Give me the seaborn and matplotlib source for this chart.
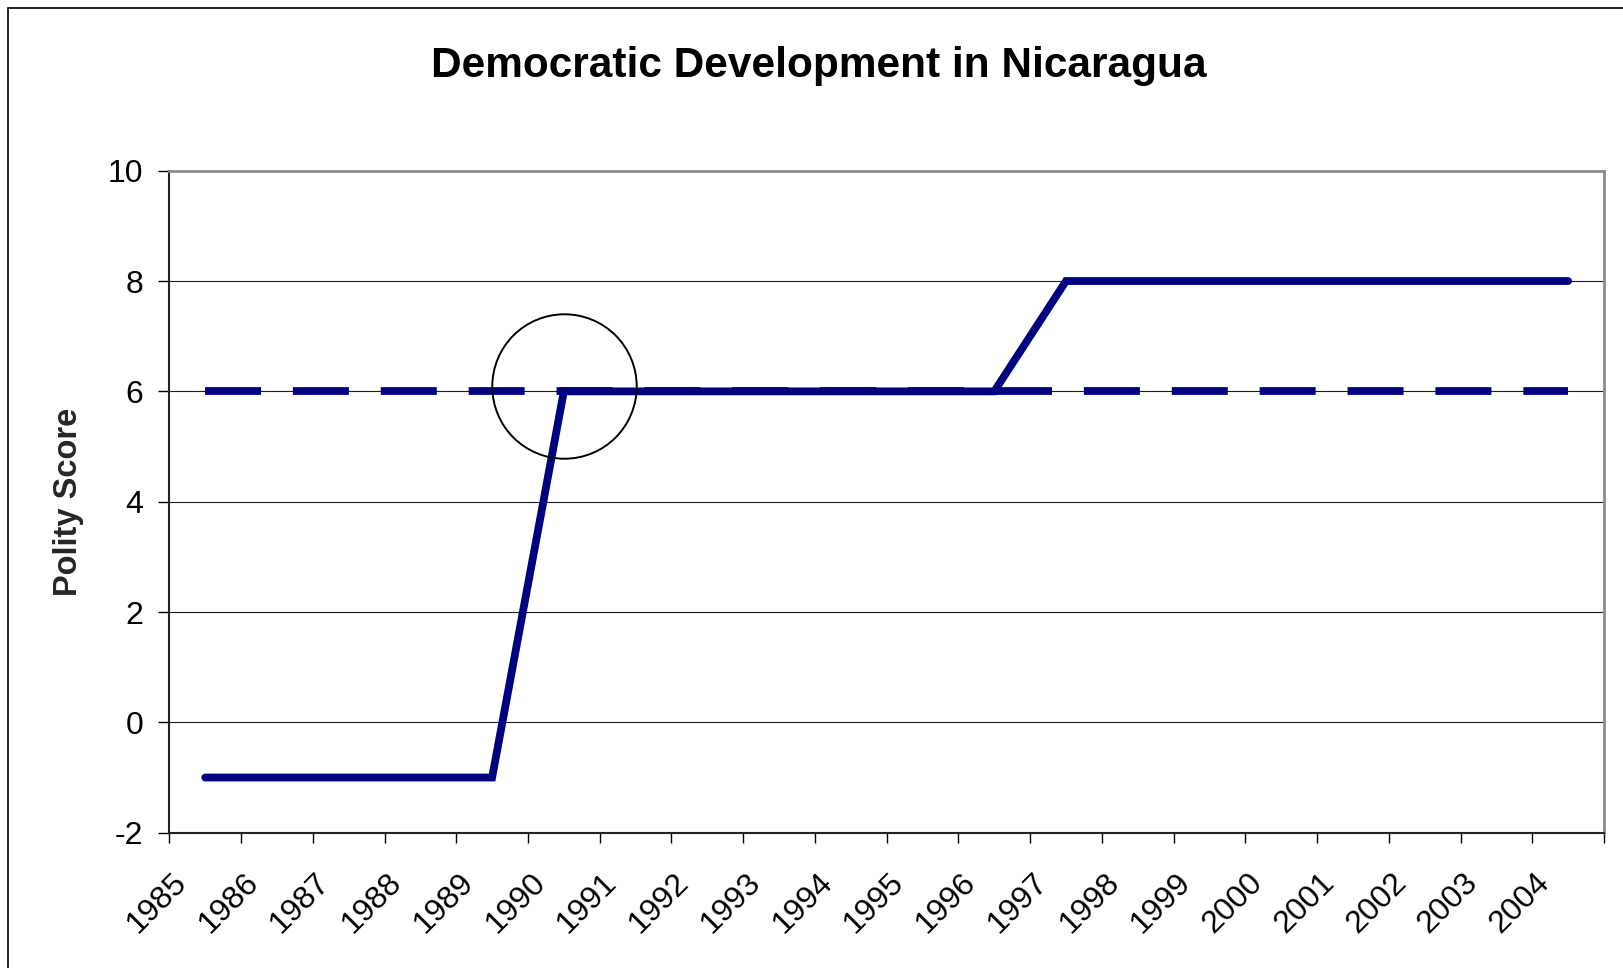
import numpy as np
import pandas as pd
import seaborn as sns
import matplotlib
matplotlib.use("Agg")
import matplotlib.pyplot as plt
from matplotlib.patches import Rectangle
from matplotlib.transforms import ScaledTranslation

# Polity scores for Nicaragua, 1985-2004
years = [1985, 1986, 1987, 1988, 1989, 1990, 1991, 1992, 1993, 1994,
         1995, 1996, 1997, 1998, 1999, 2000, 2001, 2002, 2003, 2004]
polity = [-1, -1, -1, -1, -1, 6, 6, 6, 6, 6,
          6, 6, 8, 8, 8, 8, 8, 8, 8, 8]
# democracy threshold line
threshold = [6, 6, 6, 6, 6, 6, 6, 6, 6, 6,
             6, 6, 6, 6, 6, 6, 6, 6, 6, 6]
y_ticks = [-2, 0, 2, 4, 6, 8, 10]
highlight_year = 1990

title = "Democratic Development in Nicaragua"
ylabel = "Polity Score"

sns.set_theme(style="white")
plt.rcParams["font.family"] = ["Liberation Sans", "DejaVu Sans"]

NAVY = "#000080"
W, H, DPI = 1623, 968, 100
fig = plt.figure(figsize=(W / DPI, H / DPI), dpi=DPI)
fig.patch.set_facecolor("white")

left, right, top, bottom = 169.3, 1604, 170.7, 832.7
ax = fig.add_axes([left / W, 1 - bottom / H, (right - left) / W, (bottom - top) / H])
ax.set_facecolor("white")

df = pd.DataFrame({"year": years, "polity": polity, "threshold": threshold})

lw = 5.6
sns.lineplot(data=df, x="year", y="threshold", ax=ax, color=NAVY,
             linewidth=lw, linestyle=(0, (7.2, 4.1)), dash_capstyle="butt",
             zorder=3)
sns.lineplot(data=df, x="year", y="polity", ax=ax, color=NAVY,
             linewidth=lw, solid_capstyle="round", solid_joinstyle="miter",
             zorder=4)

# circle around the 1990 transition
hy = polity[years.index(highlight_year)]
ax.plot([highlight_year], [hy + 0.1], marker="o", markersize=104,
        markerfacecolor="none", markeredgecolor="black", markeredgewidth=1.4,
        zorder=5, clip_on=False)

ax.set_xlim(years[0] - 0.5, years[-1] + 0.5)
ax.set_ylim(y_ticks[0], y_ticks[-1])

# y axis
ax.set_yticks(y_ticks)
ax.set_yticklabels([str(v) for v in y_ticks], fontsize=23, color="black")
ax.tick_params(axis="y", which="major", left=True, length=7.9, width=1.0,
               color="black", pad=11.0, direction="out")
for v in y_ticks[1:-1]:
    ax.axhline(v, color="#1a1a1a", linewidth=0.8, zorder=1)

# x axis: tick marks at category boundaries, labels at category centers
bounds = [y - 0.5 for y in years] + [years[-1] + 0.5]
ax.set_xticks(bounds)
ax.set_xticklabels([])
ax.tick_params(axis="x", which="major", bottom=True, length=7.2, width=1.0,
               color="black", direction="out")
offset = ScaledTranslation(-23.0 / DPI, -45.0 / DPI, fig.dpi_scale_trans)
for yr in years:
    ax.text(yr, 0, str(yr), transform=ax.get_xaxis_transform() + offset,
            rotation=45, rotation_mode="anchor", ha="right", va="center",
            fontsize=23, color="black")

ax.set_xlabel("")
ax.set_ylabel(ylabel, fontsize=23.5, fontweight="bold")
ax.yaxis.set_label_coords(-0.0595, 0.5)

for side in ["left", "bottom"]:
    ax.spines[side].set_color("#222222")
    ax.spines[side].set_linewidth(1.5)
for side in ["top", "right"]:
    ax.spines[side].set_color("#8c8c8c")
    ax.spines[side].set_linewidth(2.0)
ax.grid(False)

fig.text(819 / W, 1 - 77 / H, title, ha="center", va="baseline",
         fontsize=30.5, fontweight="bold", color="black")

# chart-area border
fig.patches.append(Rectangle((8.3 / W, -0.1), 2.0, 1 - 8.3 / H + 0.1,
                             transform=fig.transFigure, fill=False,
                             edgecolor="black", linewidth=1.2, zorder=0))

fig.savefig("out.png", dpi=DPI, facecolor="white")
